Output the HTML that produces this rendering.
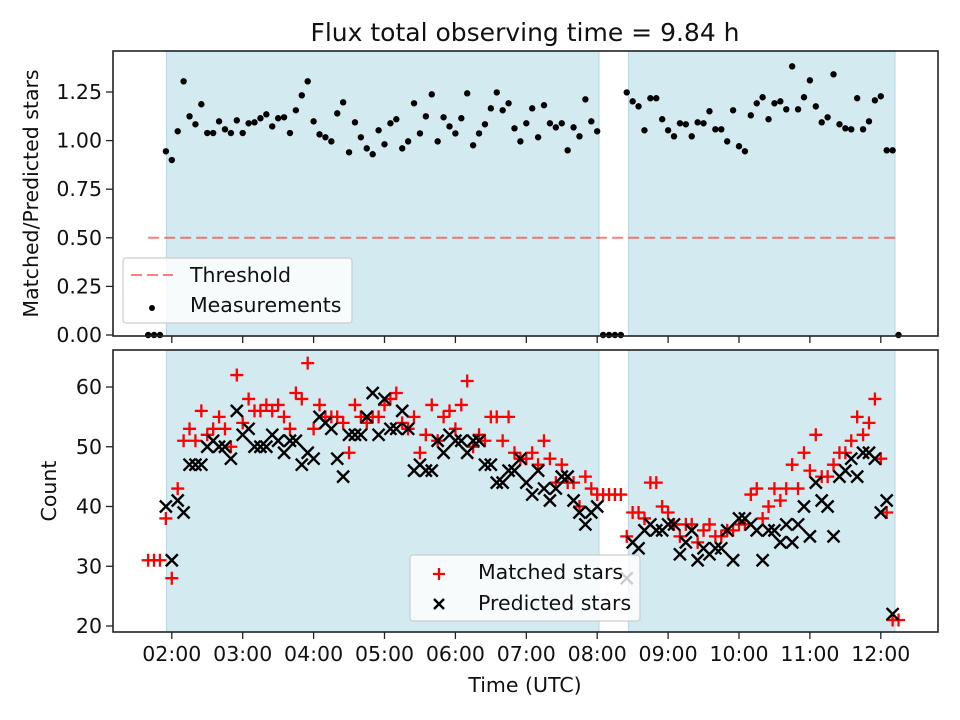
<!DOCTYPE html>
<html><head><meta charset="utf-8"><style>
html,body{margin:0;padding:0;background:#fff;}
svg{display:block;font-family:"DejaVu Sans","Liberation Sans",sans-serif;}
</style></head><body>
<svg id="chart" width="960" height="720" viewBox="0 0 960 720">
<g id="topPanel"></g>
<g id="botPanel"></g>
</svg>
<script>
const times = [100,105,110,115,120,125,130,135,140,145,150,155,160,165,170,175,180,185,190,195,200,205,210,215,220,225,230,235,240,245,250,255,260,265,270,275,280,285,290,295,300,305,310,315,320,325,330,335,340,345,350,355,360,365,370,375,380,385,390,395,400,405,410,415,420,425,430,435,440,445,450,455,460,465,470,475,480,485,490,495,500,505,510,515,520,525,530,535,540,545,550,555,560,565,570,575,580,585,590,595,600,605,610,615,620,625,630,635,640,645,650,655,660,665,670,675,680,685,690,695,700,705,710,715,720,725,730,735];
const ratio = [0,0,0,0.945,0.90,1.048,1.305,1.125,1.084,1.187,1.039,1.039,1.099,1.058,1.039,1.104,1.039,1.089,1.094,1.115,1.135,1.073,1.115,1.120,1.039,1.156,1.233,1.305,1.099,1.032,1.017,0.996,1.140,1.197,0.940,1.094,1.017,0.960,0.930,1.053,0.981,1.089,1.110,0.960,0.996,1.192,1.037,1.125,1.238,0.996,1.120,1.073,1.037,1.115,1.243,0.976,1.037,1.084,1.166,1.248,1.156,1.192,1.063,0.996,1.089,1.166,1.017,1.182,1.089,1.068,1.089,0.950,1.068,1.022,1.212,1.099,1.048,0,0,0,0,1.248,1.202,1.176,1.053,1.218,1.218,1.110,1.053,1.022,1.089,1.084,1.022,1.094,1.089,1.151,1.058,1.058,0.996,1.156,0.971,0.945,1.130,1.192,1.223,1.110,1.192,1.202,1.161,1.382,1.161,1.223,1.310,1.176,1.094,1.120,1.341,1.084,1.063,1.058,1.218,1.058,1.099,1.207,1.228,0.950,0.950,0];
const matched = [31,31,31,38,28,43,51,53,51,56,52,53,55,53,50,62,54,58,56,56,57,56,57,55,53,59,58,64,53,57,55,55,55,54,49,57,55,54,55,55,57,58,59,54,53,55,49,52,57,51,55,56,53,57,61,50,52,51,55,55,51,55,49,48,48,49,47,51,48,44,47,44,44,40,45,43,42,42,42,42,42,35,39,39,38,44,44,40,39,37,35,37,37,34,36,37,35,35,36,36,37,37,42,43,38,40,43,41,43,47,43,49,46,52,45,45,47,49,49,51,55,52,54,58,48,39,21,21];
const predicted = [null,null,null,40,31,41,39,47,47,47,50,51,50,50,48,56,52,53,50,50,50,52,51,49,51,51,47,49,48,55,54,53,48,45,52,52,52,55,59,52,58,53,53,56,53,46,47,46,46,51,49,52,51,51,49,51,51,47,47,44,44,46,46,48,44,42,46,43,41,43,45,45,41,39,37,39,40,null,null,null,null,28,34,33,36,37,36,36,37,37,32,34,36,31,33,32,33,33,36,31,38,38,37,36,31,36,36,34,37,34,37,40,35,44,41,40,35,45,46,48,45,49,49,48,39,41,22,null];
const spans = [[115.5,481.5],[506.5,732]];
const ratioTicks = [0,0.25,0.5,0.75,1.0,1.25];
const ratioTickLabels = ["0.00","0.25","0.50","0.75","1.00","1.25"];
const countTicks = [20,30,40,50,60];
const timeTicks = [120,180,240,300,360,420,480,540,600,660,720];
const timeTickLabels = ["02:00","03:00","04:00","05:00","06:00","07:00","08:00","09:00","10:00","11:00","12:00"];
const threshold = 0.5;

const NS="http://www.w3.org/2000/svg";
const FS=20.5;
const L=113,R=938,T1=51,B1=336,T2=350,B2=632;
const xs=t=>171.8+(t-120)/60*70.9;
const y1=v=>335-v*194.4;
const y2=v=>626-(v-20)*5.975;
function mk(parent,tag,attrs,text){const e=document.createElementNS(NS,tag);for(const k in attrs)e.setAttribute(k,attrs[k]);if(text!==undefined)e.textContent=text;parent.appendChild(e);return e;}
const gTop=document.getElementById('topPanel'),gBot=document.getElementById('botPanel'),svgEl=document.getElementById('chart');

function panel(g,T,B,ys,ticks,labels,ylabel,ylx){
  spans.forEach((s,i)=>{const r=mk(g,'rect',{x:xs(s[0]),y:T,width:xs(s[1])-xs(s[0]),height:B-T,fill:'#d4eaf1',stroke:'#b7dbe8','stroke-width':1.2});
    
    });
  ticks.forEach((v,i)=>{const yy=ys(v);mk(g,'line',{x1:L-7,x2:L,y1:yy,y2:yy,stroke:'#222','stroke-width':1.3});
    const t=mk(g,'text',{x:L-11,y:yy+7,'text-anchor':'end','font-size':FS,fill:'#111'},labels[i]);
    
    });
  timeTicks.forEach((tt,i)=>{mk(g,'line',{x1:xs(tt),x2:xs(tt),y1:B,y2:B+7,stroke:'#222','stroke-width':1.3});
    if(g===gBot){const t=mk(g,'text',{x:xs(tt),y:B+29,'text-anchor':'middle','font-size':FS,fill:'#111'},timeTickLabels[i]);
    
    }});
  const yl=mk(g,'text',{transform:`translate(${ylx},${(T+B)/2}) rotate(-90)`,'text-anchor':'middle','font-size':FS,fill:'#111'},ylabel);
  
  
}
panel(gTop,T1,B1,y1,ratioTicks,ratioTickLabels,'Matched/Predicted stars',38);
panel(gBot,T2,B2,y2,countTicks,countTicks.map(String),'Count',56);

const th=mk(gTop,'line',{x1:xs(times[0]),x2:xs(times[times.length-1]),y1:y1(threshold),y2:y1(threshold),stroke:'#ff0000','stroke-opacity':0.5,'stroke-width':2,'stroke-dasharray':'11,5'});


times.forEach((t,i)=>{const c=mk(gTop,'circle',{cx:xs(t),cy:y1(ratio[i]),r:3.2,fill:'#000'});
  
  });
times.forEach((t,i)=>{if(matched[i]==null)return;const cx=xs(t),cy=y2(matched[i]);
  const p=mk(gBot,'path',{d:`M${cx-6.5},${cy}H${cx+6.5}M${cx},${cy-6.5}V${cy+6.5}`,stroke:'#ff0000','stroke-width':2.3});
  
  });
times.forEach((t,i)=>{if(predicted[i]==null)return;const cx=xs(t),cy=y2(predicted[i]);
  const p=mk(gBot,'path',{d:`M${cx-6},${cy-6}L${cx+6},${cy+6}M${cx-6},${cy+6}L${cx+6},${cy-6}`,stroke:'#000','stroke-width':2.4});
  
  });
[[T1,B1,gTop],[T2,B2,gBot]].forEach(([T,B,g])=>{const f=mk(g,'rect',{x:L,y:T,width:R-L,height:B-T,fill:'none',stroke:'#222','stroke-width':1.6});
  
  });
const lg1=mk(gTop,'g',{});


mk(lg1,'rect',{x:123,y:258,width:229,height:65,rx:3,fill:'#fff','fill-opacity':0.8,stroke:'#ccc','stroke-width':1.2});
mk(lg1,'line',{x1:131,x2:173,y1:275,y2:275,stroke:'#ff0000','stroke-opacity':0.5,'stroke-width':2,'stroke-dasharray':'11,5'});
mk(lg1,'text',{x:190,y:282,'font-size':FS,fill:'#111'},'Threshold');
mk(lg1,'circle',{cx:152,cy:308,r:3,fill:'#000'});
mk(lg1,'text',{x:190,y:312,'font-size':FS,fill:'#111'},'Measurements');
const lg2=mk(gBot,'g',{});


mk(lg2,'rect',{x:410,y:555,width:230,height:66,rx:3,fill:'#fff','fill-opacity':0.8,stroke:'#ccc','stroke-width':1.2});
mk(lg2,'path',{d:'M433,574H445M439,568V580',stroke:'#ff0000','stroke-width':2.3});
mk(lg2,'text',{x:478,y:579,'font-size':FS,fill:'#111'},'Matched stars');
mk(lg2,'path',{d:'M434,599L444,609M434,609L444,599',stroke:'#000','stroke-width':2.4});
mk(lg2,'text',{x:478,y:610,'font-size':FS,fill:'#111'},'Predicted stars');
const ti=mk(svgEl,'text',{x:525,y:41,'text-anchor':'middle','font-size':25,fill:'#111'},'Flux total observing time = 9.84 h');


const xl=mk(svgEl,'text',{x:525,y:692,'text-anchor':'middle','font-size':FS,fill:'#111'},'Time (UTC)');


</script>
</body></html>
